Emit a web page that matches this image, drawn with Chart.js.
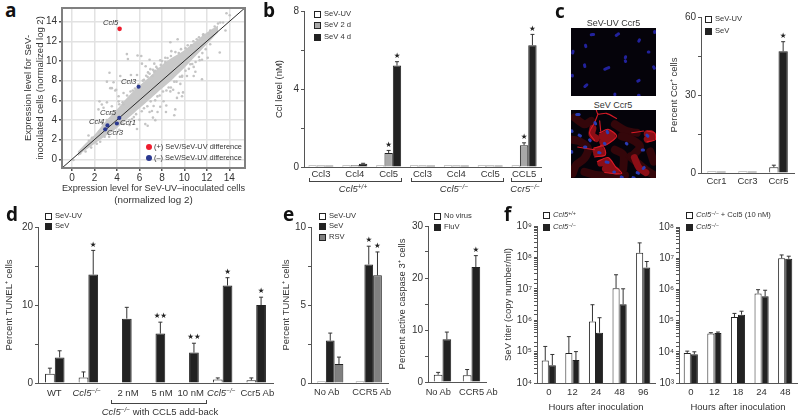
<!DOCTYPE html>
<html>
<head>
<meta charset="utf-8">
<style>
  html, body { margin: 0; padding: 0; background: #fff; overflow: hidden; }
  #page { position: relative; width: 800px; height: 419px; font-family: "Liberation Sans", Arial, sans-serif; color: #333; }
  #page canvas { position: absolute; }
  .t { position: absolute; white-space: nowrap; line-height: 1; }
  .t sup { font-size: 68%; line-height: 0; vertical-align: 0.45em; }
  .box { position: absolute; width: 5px; height: 5px; border: 1px solid #222; }
  .dot { position: absolute; width: 6px; height: 6px; border-radius: 50%; }
  .br { position: absolute; border: 1px solid #444; border-top: none; height: 3px; }
</style>
</head>
<body>
<div id="page"></div>
<script src="https://cdn.jsdelivr.net/npm/chart.js@4"></script>
<script>
// panel a, the dense cloud is kept as its upper and lower edge
const bandX = [0.5, 1, 2, 3, 4, 5, 6, 7, 8, 9, 10, 11, 12, 13];
const bandUpper = [0.8, 1.4, 2.5, 3.9, 5.1, 6.4, 7.5, 8.5, 9.6, 10.4, 11.1, 12, 12.9, 13.6];
const bandLower = [0.3, 0.8, 1.6, 2.4, 3.2, 4.2, 5.2, 6.2, 7.2, 8.2, 9.3, 10.5, 11.7, 12.9];
const grayPoints = [
  [4.88,10.7],[4.97,10.2],[5.83,10.56],[6.16,10.5],[6.9,10.13],[6.22,9.73],[6.55,9.47],[6.97,9.17],[3.33,8.8],[6.76,8.84],
  [3.1,7.9],[7.17,8.47],[6.73,8.37],[3.69,7.84],[4.29,8.47],[3.54,7.24],[3.93,7.07],[5.24,8.57],[5.78,8.57],
  [8.75,11.9],[9.4,12.2],[8.84,11],[11.66,12.66],[12.17,12.79],[13,13.8],[13.45,13.9],[13.75,14.85],[14.04,14.65],[13.66,13.1],
  [13.15,10.86],[12.08,10.33],[11.57,10.13],[10.98,8.9],[10.23,8.47],[11.57,8.14],[9.64,7.67],[9.79,8.4],[10.83,9.4],[10.53,9.67],
  [8.3,10.33],[7.85,10.07],[7.32,9.73],[7.6,9.23],[7.3,8.9],[9,7.07],[10.83,8.47],[11.36,10.07],
  [3.4,7.24],[3.84,7],[2.44,5.9],[2.65,5.58],[3.1,5.8],[2.8,5.25],[3.54,5.4],[4.14,5.9],[4.58,5.58],[4.14,6.41],[2.35,5.08],[4.58,6.75],
  [6.52,3.59],[6.73,3.42],[5.78,3.09],[7.2,4.25],[6.9,4.82],[1.46,2.43],[1.76,2.16],[0.72,0.6],[0.12,-0.06],[5.33,4.1],[5.12,3.49],
  [2.06,1.76],[6,4.02],[7.26,5.42],[9.19,5.08],[9.1,4.49],[8.39,5.48],[8.36,4.82],[9.49,6.75],[9.88,6.81],[9.79,6.41],[7.85,5.35],
  [7.41,3.99],[7.11,4.92],[7.61,4.82],[8.15,5.91],[8.75,6.91],[9.34,6.25],
  [5.2,6.9],[5.6,7.2],[6.3,8],[6.6,8.5],[7.2,9.1],[7.5,9.4],[8,10],[8.5,10.3],[9.2,10.9],[9.7,11.2],[10.3,11.6],[10.8,12],[11.3,12.4],
  [11.7,12.7],[12.3,13.1],[12.7,13.5],[13.2,13.9],[5.5,4.3],[6.2,4.9],[6.7,5.4],[7.4,6],[7.8,6.5],[8.4,7],[8.8,7.3],[9.3,7.9],[9.8,8.5],
  [10.4,9.2],[11,9.9],[11.6,10.8],[12.3,11.7],[4.2,3],[3.3,2.3],[2.5,1.8],[3.5,4.6],[4.2,5.6],[2.7,3.6],[1.5,1.9],[1.2,0.8],
  [4.5,5.8],[4.9,6.5],[5.4,7],[5.9,7.6],[6.4,8.1],[6.9,8.7],[7.4,9],[7.9,9.6],[8.3,9.9],[8.8,10.5],[9.5,10.8],[10.1,11.3],[10.6,11.6],[11.1,12.2],
  [4.6,3.6],[5.1,4],[5.7,4.6],[6.4,5.2],[7,5.9],[7.6,6.4],[8.1,6.9],[8.6,7.3],[9.1,7.9],[9.6,8.4],[10.1,9],[10.7,9.7],[11.3,10.4],[11.9,11.2],
  [3.6,3],[2.9,2.3],[2.2,1.6],[1.7,1.2],[3.1,4],[2.4,2.8],[1.8,2.2]
];
const identityLine = [[-0.9, -0.87], [15.4, 15.4]];
const redPoints = [[4.23, 13.26]];
const bluePoints = [[5.92, 7.38], [4.2, 4.22], [3.99, 3.65], [3.15, 3.45], [2.95, 3.06]];
const axisTicksA = [0, 2, 4, 6, 8, 10, 12, 14];

// panel b
const groupsB = ['Ccl3', 'Ccl4', 'Ccl5', 'Ccl3', 'Ccl4', 'Ccl5', 'CCL5'];
const uvB = [0.04, 0.05, 0.04, 0.04, 0.04, 0.04, 0.04];
const sev2dB = [0.06, 0.09, 0.72, 0.03, 0.03, 0.03, 1.12];
const sev4dB = [0.07, 0.17, 5.2, 0.05, 0.05, 0.05, 6.25];
const errUvB = [0, 0, 0, 0, 0, 0, 0];
const err2dB = [0, 0, 0.13, 0, 0, 0, 0.12];
const err4dB = [0, 0.02, 0.2, 0, 0, 0, 0.55];
const stars2dB = ['', '', '★', '', '', '', '★'];
const stars4dB = ['', '', '★', '', '', '', '★'];

// panel c
const groupsC = ['Ccr1', 'Ccr3', 'Ccr5'];
const uvC = [0.5, 0.5, 2.2];
const sevC = [0.5, 0.5, 46.8];
const errUvC = [0, 0, 0.8];
const errSevC = [0, 0, 3.7];
const starsC = ['', '', '★'];

// panel c micrographs, in the picture's own frame
const nucleiUv = [[80,31,87,30],[154,33,161,28],[221,50,223,46],[268,21,268,24],[63,62,64,66],[25,85,26,80],[249,82,251,82],[181,99,182,96],
  [181,108,182,110],[60,120,61,125],[265,126,267,130],[120,133,132,128],[24,151,24,153],[218,168,222,166],[61,184,67,179],[150,206,150,208],[220,210,222,210]];
const nucleiSev = [[37,271,44,271],[91,295,93,299],[127,321,129,325],[22,319,23,321],[44,332,48,334],[75,346,77,348],[119,356,121,358],[60,367,64,367],
  [184,356,186,358],[102,383,106,384],[22,380,22,382],[124,411,130,412],[231,376,235,376],[234,430,237,427],[216,442,220,444],[169,455,172,456],[204,457,207,458],[147,440,149,440],[245,332,248,335]];
const dimPaths = [
  [[22,345],[45,350],[70,370],[60,400],[35,420],[25,445]],
  [[170,335],[200,345],[225,365],[200,395]],
  [[195,395],[225,420],[250,440],[268,450]],
  [[30,280],[60,300],[80,290]],
  [[150,300],[185,320],[215,325]],
  [[150,375],[175,390],[175,430]],
  [[60,440],[100,450],[180,450]],
  [[255,380],[265,410]]
];
const midPaths = [
  [[85,312],[82,330],[95,342]],
  [[112,335],[130,328],[142,335],[125,350],[114,352]],
  [[94,378],[108,376],[112,385],[96,386]],
  [[246,328],[258,328],[260,338],[246,344]],
  [[108,414],[130,410],[142,428],[155,438],[122,430]],
  [[208,398],[222,428],[242,442]]
];
const brightPaths = [
  [[95,258],[100,270],[125,268],[155,283]],
  [[100,270],[90,295],[75,325],[90,348]],
  [[105,290],[108,320]],
  [[40,367],[90,375]],
  [[245,320],[268,325],[270,345],[245,352]],
  [[200,325],[235,320]],
  [[105,325],[130,315],[155,335],[125,360],[108,362]],
  [[88,370],[115,365],[122,390],[90,396]],
  [[98,410],[130,398],[152,425],[170,445],[120,442]]
];

// panel d
const groupsD = ['WT', 'Ccl5-/-', '2 nM', '5 nM', '10 nM', 'Ccl5-/- b', 'Ccr5 Ab'];
const uvD = [1.2, 0.72, null, null, null, 0.45, 0.35];
const sevD = [3.28, 13.9, 8.25, 6.34, 3.9, 12.5, 10];
const errUvD = [0.7, 0.7, 0, 0, 0, 0.2, 0.3];
const errSevD = [0.85, 3.1, 1.45, 1.46, 1.2, 1, 1];
const starsD = ['', '★', '', '★★', '★★', '★', '★'];

// panel e
const groupsE = ['No Ab', 'CCR5 Ab'];
const uvE = [0.1, 0.1];
const sevE = [2.72, 7.6];
const rsvE = [1.21, 6.9];
const errSevE = [0.48, 1.17];
const errRsvE = [0.45, 1.5];
const starsSevE = ['', '★'];
const starsRsvE = ['', '★'];
const noVirusE = [1.4, 1.3];
const fluE = [8.2, 22.1];
const errNoVirusE = [0.45, 1.1];
const errFluE = [1.4, 2.2];
const starsFluE = ['', '★'];

// panel f
const hoursF1 = ['0', '12', '24', '48', '96'];
const wtF1 = [5.2e4, 9e4, 9.1e5, 1.05e7, 1.4e8];
const koF1 = [3.7e4, 5.4e4, 4e5, 3.2e6, 4.8e7];
const errWtF1 = [9.4e4, 2.1e5, 2.2e6, 1.75e7, 1.5e8];
const errKoF1 = [4.4e4, 4.6e4, 8e5, 6.8e6, 2.6e7];
const hoursF2 = ['0', '12', '18', '24', '48'];
const addF2 = [9.2e3, 3.85e4, 1.3e5, 7.4e5, 1e7];
const koF2 = [8.4e3, 4e4, 1.55e5, 6e5, 9.6e6];
const errAddF2 = [1.3e3, 2.5e3, 4e4, 2.4e5, 2.7e6];
const errKoF2 = [1.6e3, 3e3, 4.5e4, 3.4e5, 2e6];

const WHITE = '#ffffff', GRAY = '#a8a8a8', DARK = '#222222', MID = '#808080';
const AXIS = '#555555', INK = '#333333';
const SUP = { 3: '³', 4: '⁴', 5: '⁵', 6: '⁶', 7: '⁷', 8: '⁸', 9: '⁹' };

const page = document.getElementById('page');
Chart.defaults.font.family = '"Liberation Sans", Arial, sans-serif';
Chart.defaults.color = INK;
Chart.defaults.animation = false;
Chart.defaults.plugins.legend.display = false;
Chart.defaults.plugins.tooltip.enabled = false;

// error whiskers and significance stars, both hang off the bar elements
const errorBars = {
  id: 'errorBars',
  afterDatasetsDraw(chart) {
    const ctx = chart.ctx, y = chart.scales.y;
    chart.data.datasets.forEach((ds, di) => {
      const meta = chart.getDatasetMeta(di);
      meta.data.forEach((bar, i) => {
        const err = ds.errs ? ds.errs[i] : 0;
        let top = bar.y;
        if (err > 0) {
          top = y.getPixelForValue(ds.data[i] + err);
          ctx.save();
          ctx.strokeStyle = INK;
          ctx.lineWidth = 1;
          ctx.beginPath();
          ctx.moveTo(bar.x, bar.y);
          ctx.lineTo(bar.x, top);
          ctx.moveTo(bar.x - 2, top);
          ctx.lineTo(bar.x + 2, top);
          ctx.stroke();
          ctx.restore();
        }
        if (ds.stars && ds.stars[i]) {
          ctx.save();
          ctx.fillStyle = DARK;
          ctx.font = '7.5px "DejaVu Sans"';
          ctx.textAlign = 'center';
          ctx.textBaseline = 'bottom';
          ctx.fillText(ds.stars[i], bar.x, top - 2);
          ctx.restore();
        }
      });
    });
  }
};

const frame = {
  id: 'frame',
  afterDatasetsDraw(chart) {
    const a = chart.chartArea, ctx = chart.ctx;
    ctx.save();
    ctx.strokeStyle = '#808080';
    ctx.lineWidth = 2;
    ctx.strokeRect(a.left, a.top, a.width, a.height);
    ctx.restore();
  }
};

function addCanvas(left, top, width, height) {
  const c = document.createElement('canvas');
  c.width = width;
  c.height = height;
  c.style.left = left + 'px';
  c.style.top = top + 'px';
  page.appendChild(c);
  return c;
}

function barPanel(p) {
  const pad = 10;
  const canvas = addCanvas(p.x0 - p.yw, p.y0 - pad, p.x1 - p.x0 + p.yw + 2, p.y1 - p.y0 + pad + p.below);
  const log = p.log === true;
  const labelled = p.labels;
  return new Chart(canvas, {
    type: 'bar',
    data: {
      labels: p.groups,
      datasets: p.series.map(s => ({
        data: s.data, errs: s.errs, stars: s.stars,
        backgroundColor: s.color, borderColor: '#222222', borderWidth: 1,
        categoryPercentage: p.fill, barPercentage: 1, minBarLength: 1.5
      }))
    },
    plugins: [errorBars],
    options: {
      responsive: false,
      layout: { autoPadding: false, padding: { top: pad, right: 2 } },
      scales: {
        x: {
          grid: { display: false, drawTicks: false },
          border: { color: AXIS },
          ticks: { display: p.showX !== false, font: { size: p.xSize || 9.5 }, padding: p.xPad || 4, maxRotation: 0, autoSkip: false },
          title: p.xTitle ? { display: true, text: p.xTitle, font: { size: 9.5 }, padding: 0, color: INK } : { display: false },
          afterFit: s => { s.height = p.below; }
        },
        y: {
          type: log ? 'logarithmic' : 'linear',
          min: p.min, max: p.max,
          grid: { drawOnChartArea: false, tickLength: 3, tickColor: AXIS },
          border: { color: AXIS },
          afterBuildTicks: s => { if (!log) s.ticks = p.ticks.map(v => ({ value: v })); },
          ticks: {
            autoSkip: false, padding: 2, font: { size: p.ySize || 10 },
            callback: v => {
              if (log) {
                const e = Math.log10(v);
                return Math.abs(e - Math.round(e)) < 1e-9 ? '10' + SUP[Math.round(e)] : '';
              }
              return labelled.includes(v) ? String(v) : '';
            }
          },
          title: p.yTitle ? { display: true, text: p.yTitle, font: { size: 9.5 }, padding: 0, color: INK } : { display: false },
          afterFit: s => { s.width = p.yw; }
        }
      }
    }
  });
}

// ---- panel a
const pairs = (xs, ys) => xs.map((x, i) => ({ x: x, y: ys[i] }));
const pts = list => list.map(q => ({ x: q[0], y: q[1] }));
new Chart(addCanvas(23, 0, 224, 206), {
  type: 'line',
  data: {
    datasets: [
      { label: 'upper', data: pairs(bandX, bandUpper), order: 5, borderWidth: 0, pointRadius: 0, tension: 0.3, fill: 1, backgroundColor: '#c8c8c8' },
      { label: 'lower', data: pairs(bandX, bandLower), order: 5, borderWidth: 0, pointRadius: 0, tension: 0.3 },
      { label: 'genes', data: pts(grayPoints), order: 4, showLine: false, pointRadius: 1.3, pointBorderWidth: 0, pointBackgroundColor: '#c4c4c4' },
      { label: 'identity', data: pts(identityLine), order: 3, borderColor: '#2a2a2a', borderWidth: 1, pointRadius: 0 },
      { label: 'up', data: pts(redPoints), order: 2, showLine: false, pointRadius: 2.3, pointBorderWidth: 0, pointBackgroundColor: '#ee1c2e' },
      { label: 'down', data: pts(bluePoints), order: 1, showLine: false, pointRadius: 2.1, pointBorderWidth: 0, pointBackgroundColor: '#2b3990' }
    ]
  },
  plugins: [frame],
  options: {
    responsive: false,
    layout: { autoPadding: false, padding: { top: 5, right: 2 } },
    scales: {
      x: {
        type: 'linear', min: -0.9, max: 15.4,
        grid: { color: '#e2e2e2', lineWidth: 1.5, tickColor: AXIS, tickLength: 3 },
        afterBuildTicks: s => { s.ticks = axisTicksA.map(v => ({ value: v })); },
        ticks: { font: { size: 10 }, padding: 1, maxRotation: 0 },
        title: { display: true, text: ['Expression level for SeV-UV–inoculated cells', '(normalized log 2)'], font: { size: 9.8 }, padding: 0, color: INK },
        afterFit: s => { s.height = 38; }
      },
      y: {
        type: 'linear', min: -0.87, max: 15.38,
        grid: { color: '#e2e2e2', lineWidth: 1.5, tickColor: AXIS, tickLength: 3 },
        afterBuildTicks: s => { s.ticks = axisTicksA.map(v => ({ value: v })); },
        ticks: { font: { size: 10 }, padding: 2 },
        title: { display: true, text: ['Expression level for SeV-', 'inoculated cells (normalized log 2)'], font: { size: 9.5 }, padding: 0, color: INK },
        afterFit: s => { s.width = 39; }
      }
    }
  }
});

// ---- panel b
barPanel({
  x0: 304, x1: 541, y0: 11, y1: 167, yw: 30, below: 14, min: 0, max: 8, ticks: [0, 2, 4, 6, 8], labels: [0, 4, 8],
  groups: groupsB, fill: 0.74, yTitle: 'Ccl level (nM)', xPad: 2,
  series: [
    { data: uvB, errs: errUvB, color: WHITE },
    { data: sev2dB, errs: err2dB, stars: stars2dB, color: GRAY },
    { data: sev4dB, errs: err4dB, stars: stars4dB, color: DARK }
  ]
});

// ---- panel c bars
barPanel({
  x0: 701, x1: 794, y0: 16.7, y1: 173, yw: 32, below: 14, min: 0, max: 60, ticks: [0, 15, 30, 45, 60], labels: [0, 30, 60],
  groups: groupsC, fill: 0.6, yTitle: 'Percent Ccr⁺ cells', xPad: 3,
  series: [
    { data: uvC, errs: errUvC, color: WHITE },
    { data: sevC, errs: errSevC, stars: starsC, color: DARK }
  ]
});

// ---- panel c micrographs
function stroke(path, color, width) {
  return { data: pts(path), borderColor: color, borderWidth: width, pointRadius: 0, tension: 0.3, borderCapStyle: 'round', borderJoinStyle: 'round' };
}
function micrograph(top, yMin, yMax, nuclei, blue, cells) {
  const canvas = addCanvas(571, top, 85, 68);
  canvas.style.background = '#05030a';
  const segs = nuclei.map(n => stroke([[n[0], n[1]], [n[2], n[3]]], blue, 3));
  new Chart(canvas, {
    type: 'line',
    data: { datasets: segs.concat(cells) },
    options: {
      responsive: false,
      layout: { autoPadding: false },
      scales: {
        x: { type: 'linear', display: false, min: 20, max: 272 },
        y: { type: 'linear', display: false, min: yMin, max: yMax, reverse: true }
      }
    }
  });
}
micrograph(28, 11, 212, nucleiUv, '#22229c', []);
micrograph(110, 258, 458, nucleiSev, '#2b3cb4', []
  .concat(brightPaths.map(p => stroke(p, '#d81a26', 1.1)))
  .concat(midPaths.map(p => stroke(p, '#8c0e16', 7)))
  .concat(dimPaths.map(p => stroke(p, '#34060a', 8))));

// ---- panel d
barPanel({
  x0: 37.5, x1: 272.5, y0: 226.7, y1: 383.3, yw: 34, below: 14, min: 0, max: 20, ticks: [0, 5, 10, 15, 20], labels: [0, 10, 20],
  groups: groupsD, fill: 0.58, yTitle: 'Percent TUNEL⁺ cells', showX: false,
  series: [
    { data: uvD, errs: errUvD, color: WHITE },
    { data: sevD, errs: errSevD, stars: starsD, color: DARK }
  ]
});

// ---- panel e
barPanel({
  x0: 311, x1: 388, y0: 226.7, y1: 383.3, yw: 30, below: 18, min: 0, max: 10, ticks: [0, 2.5, 5, 7.5, 10], labels: [0, 5, 10],
  groups: groupsE, fill: 0.68, yTitle: 'Percent TUNEL⁺ cells', showX: false,
  series: [
    { data: uvE, color: WHITE },
    { data: sevE, errs: errSevE, stars: starsSevE, color: DARK },
    { data: rsvE, errs: errRsvE, stars: starsRsvE, color: MID }
  ]
});
barPanel({
  x0: 427.7, x1: 486.5, y0: 226.3, y1: 383, yw: 31, below: 18, min: 0, max: 30, ticks: [0, 5, 10, 15, 20, 25, 30], labels: [0, 10, 20, 30],
  groups: groupsE, fill: 0.6, yTitle: 'Percent active caspase 3⁺ cells', showX: false,
  series: [
    { data: noVirusE, errs: errNoVirusE, color: WHITE },
    { data: fluE, errs: errFluE, stars: starsFluE, color: DARK }
  ]
});

// ---- panel f
barPanel({
  x0: 537, x1: 655, y0: 226, y1: 383.3, yw: 34, below: 30, min: 1e4, max: 1e9, log: true,
  groups: hoursF1, fill: 0.6, yTitle: 'SeV titer (copy number/ml)', xTitle: 'Hours after inoculation', xPad: 4,
  series: [
    { data: wtF1, errs: errWtF1, color: WHITE },
    { data: koF1, errs: errKoF1, color: DARK }
  ]
});
barPanel({
  x0: 679, x1: 797, y0: 226.7, y1: 383.3, yw: 30, below: 30, min: 1e3, max: 1e8, log: true,
  groups: hoursF2, fill: 0.6, xTitle: 'Hours after inoculation', xPad: 4,
  series: [
    { data: addF2, errs: errAddF2, color: WHITE },
    { data: koF2, errs: errKoF2, color: DARK }
  ]
});

// ---- text and legends laid over the canvases
function text(html, x, y, size, opts) {
  const o = opts || {};
  const d = document.createElement('div');
  d.className = 't';
  d.innerHTML = html;
  d.style.left = x + 'px';
  d.style.top = y + 'px';
  d.style.fontSize = size + 'px';
  if (o.center) d.style.transform = 'translate(-50%, -50%)';
  else d.style.transform = 'translateY(-50%)';
  if (o.italic) d.style.fontStyle = 'italic';
  if (o.bold) { d.style.fontWeight = 'bold'; d.style.color = '#111'; d.style.fontFamily = '"Open Sans", sans-serif'; }
  page.appendChild(d);
}
function legend(x, rows) {
  rows.forEach(r => {
    const b = document.createElement('div');
    b.className = 'box';
    b.style.left = x + 'px';
    b.style.top = (r[2] - 3) + 'px';
    b.style.background = r[1];
    page.appendChild(b);
    text(r[0], x + 10, r[2], 7.6, { italic: r[3] });
  });
}
function bracket(x0, x1, y) {
  const b = document.createElement('div');
  b.className = 'br';
  b.style.left = x0 + 'px';
  b.style.width = (x1 - x0) + 'px';
  b.style.top = y + 'px';
  page.appendChild(b);
}
function dot(x, y, color) {
  const d = document.createElement('div');
  d.className = 'dot';
  d.style.left = (x - 3) + 'px';
  d.style.top = (y - 3) + 'px';
  d.style.background = color;
  page.appendChild(d);
}

text('a', 5, 10, 19, { bold: true });
text('b', 263, 10, 19, { bold: true });
text('c', 555, 11, 19, { bold: true });
text('d', 6, 214, 19, { bold: true });
text('e', 283, 214, 19, { bold: true });
text('f', 504, 214, 19, { bold: true });

text('Ccl5', 103, 23, 7.6, { italic: true });
text('Ccl3', 121, 82, 7.6, { italic: true });
text('Ccr5', 100, 113, 7.6, { italic: true });
text('Ccl4', 89, 122, 7.6, { italic: true });
text('Ccr1', 120, 123, 7.6, { italic: true });
text('Ccr3', 107, 133, 7.6, { italic: true });
dot(149, 146.7, '#ee1c2e');
dot(149, 158, '#2b3990');
text('(+) SeV/SeV-UV difference', 154, 146.7, 7.4);
text('(–) SeV/SeV-UV difference', 154, 158, 7.4);

legend(314, [['SeV-UV', WHITE, 13.7], ['SeV 2 d', GRAY, 25], ['SeV 4 d', DARK, 36.7]]);
bracket(309, 400, 178);
bracket(411, 502, 178);
bracket(511, 540, 178);
text('Ccl5<sup>+/+</sup>', 353, 189, 9.5, { center: true, italic: true });
text('Ccl5<sup>−/−</sup>', 454, 189, 9.5, { center: true, italic: true });
text('Ccr5<sup>−/−</sup>', 525, 189, 9.5, { center: true, italic: true });

text('SeV-UV Ccr5', 613.5, 23, 9, { center: true });
text('SeV Ccr5', 613, 105, 9, { center: true });
legend(705, [['SeV-UV', WHITE, 19.3], ['SeV', DARK, 30.7]]);

legend(45, [['SeV-UV', WHITE, 215.5], ['SeV', DARK, 226]]);
text('WT', 54.3, 392.7, 9.5, { center: true });
text('Ccl5<sup>−/−</sup>', 86.7, 392.7, 9.5, { center: true, italic: true });
text('2 nM', 128, 392.7, 9.5, { center: true });
text('5 nM', 162, 392.7, 9.5, { center: true });
text('10 nM', 190.7, 392.7, 9.5, { center: true });
text('Ccl5<sup>−/−</sup>', 221.3, 392.7, 9.5, { center: true, italic: true });
text('Ccr5 Ab', 257.3, 392.7, 9.5, { center: true });
bracket(111, 205, 400);
text('<i>Ccl5<sup>−/−</sup></i> with CCL5 add-back', 160, 412, 9.5, { center: true });

legend(319, [['SeV-UV', WHITE, 215.5], ['SeV', DARK, 226], ['RSV', MID, 237]]);
text('No Ab', 326.7, 392.7, 9.3, { center: true });
text('CCR5 Ab', 371.7, 392.7, 9.3, { center: true });
legend(434, [['No virus', WHITE, 215.5], ['FluV', DARK, 227]]);
text('No Ab', 438.3, 392.7, 9.3, { center: true });
text('CCR5 Ab', 478.3, 392.7, 9.3, { center: true });
legend(543, [['Ccl5<sup>+/+</sup>', WHITE, 215], ['Ccl5<sup>−/−</sup>', DARK, 226.7]].map(r => r.concat(true)));
legend(686, [['Ccl5<sup>−/−</sup> <span style="font-style:normal">+ Ccl5 (10 nM)</span>', WHITE, 215], ['Ccl5<sup>−/−</sup>', DARK, 226.7]].map(r => r.concat(true)));
</script>
</body>
</html>
